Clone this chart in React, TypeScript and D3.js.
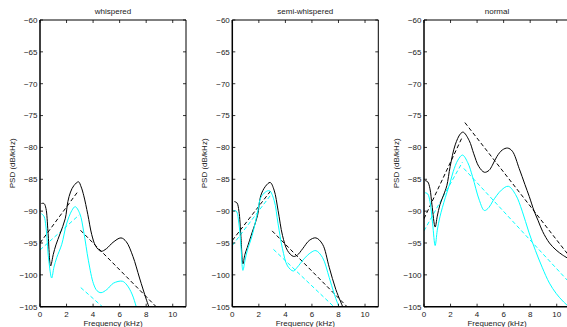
import { scaleLinear, line, curveCatmullRom, format } from "d3";

// panel titles
const titles = ["whispered", "semi-whispered", "normal"];

// tick values
const xTicks = [0, 2, 4, 6, 8, 10];
const yTicks = [-105, -100, -95, -90, -85, -80, -75, -70, -65, -60];

type Pt = [number, number];

// whispered: [kHz, dB]
const wBlack: Pt[] = [
    [0.1, -88.8], [0.3, -88.8], [0.45, -89.6], [0.6, -93.2], [0.8, -98.6], [1.0, -96.8], [1.2, -95.3],
    [1.5, -93.6], [1.9, -91.2], [2.1, -88.5], [2.3, -87], [2.55, -86], [2.9, -85.4], [3.1, -86.2],
    [3.3, -87.6], [3.6, -90.5], [3.9, -93.7], [4.2, -95.5], [4.6, -96.3], [5.0, -95.9], [5.5, -94.9],
    [6.1, -94.2], [6.5, -94.8], [7.0, -97.1], [7.5, -100.5], [8.0, -103.8], [8.3, -105.6],
];
const wCyan: Pt[] = [
    [0.1, -90.4], [0.3, -90.8], [0.45, -92.5], [0.65, -97.5], [0.88, -100.5], [1.05, -98.8],
    [1.26, -97.3], [1.64, -95.2], [2.0, -92], [2.4, -89.9], [2.65, -89.3], [3.0, -90.4], [3.3, -93.3],
    [3.65, -97.8], [4.03, -101.4], [4.3, -102.5], [4.6, -102.8], [5.04, -102.3], [5.54, -101.3],
    [6.2, -101], [6.55, -101.6], [6.93, -103], [7.25, -105], [7.35, -105.8],
];
const wBlackFit: Pt[][] = [
    [[0, -95], [2.9, -86.8]],
    [[3.05, -93], [8.75, -105]],
];
const wCyanFit: Pt[][] = [
    [[0, -96.1], [2.95, -90.6]],
    [[3.07, -102], [4.7, -105]],
];

// semi-whispered
const sBlack: Pt[] = [
    [0.15, -88.5], [0.35, -88.7], [0.5, -90], [0.65, -94], [0.8, -98.3], [0.95, -96.8], [1.13, -95.7],
    [1.5, -93.3], [1.9, -90.7], [2.14, -87.6], [2.5, -86.1], [2.85, -85.5], [3.15, -86.7], [3.45, -89.9],
    [3.78, -93.8], [4.16, -96.2], [4.6, -97.1], [4.9, -96.9], [5.3, -95.9], [5.8, -94.6], [6.3, -94.2],
    [6.8, -95.2], [7.3, -98.8], [7.8, -102.3], [8.4, -105.4],
];
const sCyan: Pt[] = [
    [0.08, -89.9], [0.3, -90], [0.5, -92], [0.65, -95.5], [0.8, -99.3], [0.95, -97.8], [1.13, -96.2],
    [1.5, -93.8], [1.9, -90.2], [2.14, -87.9], [2.5, -87], [2.8, -86.8], [3.15, -88.3], [3.45, -92],
    [3.78, -95.9], [4.16, -98.6], [4.6, -99.4], [4.9, -98.8], [5.4, -97.5], [5.92, -96.5], [6.3, -96.2],
    [6.8, -97.3], [7.3, -100.4], [7.68, -103], [8.1, -105.4],
];
const sBlackFit: Pt[][] = [
    [[0, -94.6], [2.9, -86.8]],
    [[3.0, -93.1], [8.65, -105]],
];
const sCyanFit: Pt[][] = [
    [[0, -95.4], [2.85, -87.6]],
    [[3.1, -96], [7.65, -105]],
];

// normal
const nBlack: Pt[] = [
    [0.08, -85.2], [0.28, -85.4], [0.45, -86.5], [0.6, -89], [0.84, -92.5], [1.0, -90.8], [1.2, -89],
    [1.47, -87.5], [1.72, -86], [1.97, -83], [2.35, -79.6], [2.73, -77.9], [2.95, -77.6], [3.4, -78.9],
    [3.75, -81], [4.13, -83], [4.55, -83.9], [4.9, -83.6], [5.15, -82.8], [5.5, -81.4], [5.9, -80.4],
    [6.3, -80.1], [6.66, -80.6], [7.17, -83.3], [7.6, -85.8], [7.93, -87.7], [8.3, -90], [8.6, -91.5],
    [8.94, -93.2], [9.45, -95], [9.95, -96.1], [10.45, -96.9], [11, -97.6],
];
const nCyan: Pt[] = [
    [0.08, -87.1], [0.28, -87.3], [0.45, -88.5], [0.65, -92], [0.84, -95.4], [1.0, -93], [1.2, -90.9],
    [1.6, -87.9], [1.97, -85.5], [2.2, -83.8], [2.55, -82], [2.9, -81.2], [3.3, -82.4], [3.66, -84.6],
    [4.17, -88.3], [4.55, -89.9], [4.9, -89.4], [5.19, -88.4], [5.83, -86.7], [6.35, -86.1],
    [6.9, -87.4], [7.4, -90], [7.9, -93.3], [8.4, -96.2], [8.9, -98.8], [9.45, -101.3], [9.95, -102.9],
    [10.45, -104.1], [11, -105.2],
];
const nBlackFit: Pt[][] = [
    [[0, -91.2], [2.9, -78.3]],
    [[3.08, -76.1], [11, -97.2]],
];
const nCyanFit: Pt[][] = [
    [[0, -93.1], [2.9, -82.3]],
    [[3.0, -83.3], [11, -101.3]],
];

const panels = [
    { title: titles[0], black: wBlack, cyan: wCyan, blackFit: wBlackFit, cyanFit: wCyanFit },
    { title: titles[1], black: sBlack, cyan: sCyan, blackFit: sBlackFit, cyanFit: sCyanFit },
    { title: titles[2], black: nBlack, cyan: nCyan, blackFit: nBlackFit, cyanFit: nCyanFit },
];

const W = 567;
const H = 327;
const panelLeft = [40, 232.3, 424];
const panelW = 146;
const top = 20;
const bottom = 306.7;
const font = "'Liberation Sans', Arial, Helvetica, sans-serif";
const textColor = "#222";
const CYAN = "#00ffff";

const fmt = format("d");

function Panel({ idx, p }: { idx: number; p: (typeof panels)[number] }) {
    const x0 = panelLeft[idx];
    const x = scaleLinear().domain([0, 11]).range([0, panelW]);
    const y = scaleLinear().domain([-105, -60]).range([bottom - top, 0]);
    const h = bottom - top;
    const path = line<Pt>()
        .x((d) => x(d[0]))
        .y((d) => y(d[1]))
        .curve(curveCatmullRom.alpha(0.5));
    const straight = line<Pt>()
        .x((d) => x(d[0]))
        .y((d) => y(d[1]));
    const clipId = `clip-${idx}`;

    return (
        <g transform={`translate(${x0},${top})`}>
            <defs>
                <clipPath id={clipId}>
                    <rect x={0} y={0} width={panelW} height={h} />
                </clipPath>
            </defs>
            <g clipPath={`url(#${clipId})`} fill="none">
                {p.blackFit.map((seg, i) => (
                    <path key={"bf" + i} d={straight(seg) ?? ""} stroke="#000" strokeWidth={1} strokeDasharray="4,2.5" />
                ))}
                {p.cyanFit.map((seg, i) => (
                    <path key={"cf" + i} d={straight(seg) ?? ""} stroke={CYAN} strokeWidth={1} strokeDasharray="4,2.5" />
                ))}
                <path d={path(p.black) ?? ""} stroke="#000" strokeWidth={1} />
                <path d={path(p.cyan) ?? ""} stroke={CYAN} strokeWidth={1} />
            </g>

            {/* frame */}
            <line x1={0} x2={panelW} y1={0} y2={0} stroke="#000" strokeWidth={1} />
            <line x1={panelW} x2={panelW} y1={0} y2={h} stroke="#000" strokeWidth={1} />
            <line x1={0} x2={0} y1={0} y2={h} stroke="#000" strokeWidth={1.5} />
            <line x1={0} x2={panelW} y1={h} y2={h} stroke="#000" strokeWidth={1.5} />

            {/* x ticks */}
            {xTicks.map((t) => (
                <g key={"x" + t}>
                    <line x1={x(t)} x2={x(t)} y1={h} y2={h - 3} stroke="#000" strokeWidth={0.8} />
                    <line x1={x(t)} x2={x(t)} y1={0} y2={3} stroke="#000" strokeWidth={0.8} />
                    <text x={x(t)} y={h + 9.8} textAnchor="middle" fontSize={8} fontFamily={font} fill={textColor}>
                        {fmt(t)}
                    </text>
                </g>
            ))}

            {/* y ticks */}
            {yTicks.map((t) => (
                <g key={"y" + t}>
                    <line x1={0} x2={3} y1={y(t)} y2={y(t)} stroke="#000" strokeWidth={0.8} />
                    <line x1={panelW} x2={panelW - 3} y1={y(t)} y2={y(t)} stroke="#000" strokeWidth={0.8} />
                    <text x={-2.5} y={y(t) + 2.8} textAnchor="end" fontSize={8} fontFamily={font} fill={textColor}>
                        {fmt(t)}
                    </text>
                </g>
            ))}

            <text x={panelW / 2} y={-6} textAnchor="middle" fontSize={8} fontFamily={font} fill={textColor}>
                {p.title}
            </text>
            <text x={panelW / 2} y={h + 18.8} textAnchor="middle" fontSize={8} fontFamily={font} fill={textColor}>
                Frequency (kHz)
            </text>
            <text
                transform={`translate(-25,${h / 2}) rotate(-90)`}
                textAnchor="middle"
                fontSize={8}
                fontFamily={font}
                fill={textColor}
            >
                PSD (dB/kHz)
            </text>
        </g>
    );
}

export default function App() {
    return (
        <svg
            width={W}
            height={H}
            viewBox={`0 0 ${W} ${H}`}
            style={{ position: "absolute", left: 0, top: 0, background: "#fff", display: "block" }}
        >
            <rect width={W} height={H} fill="#fff" />
            {panels.map((p, i) => (
                <Panel key={p.title} idx={i} p={p} />
            ))}
        </svg>
    );
}
